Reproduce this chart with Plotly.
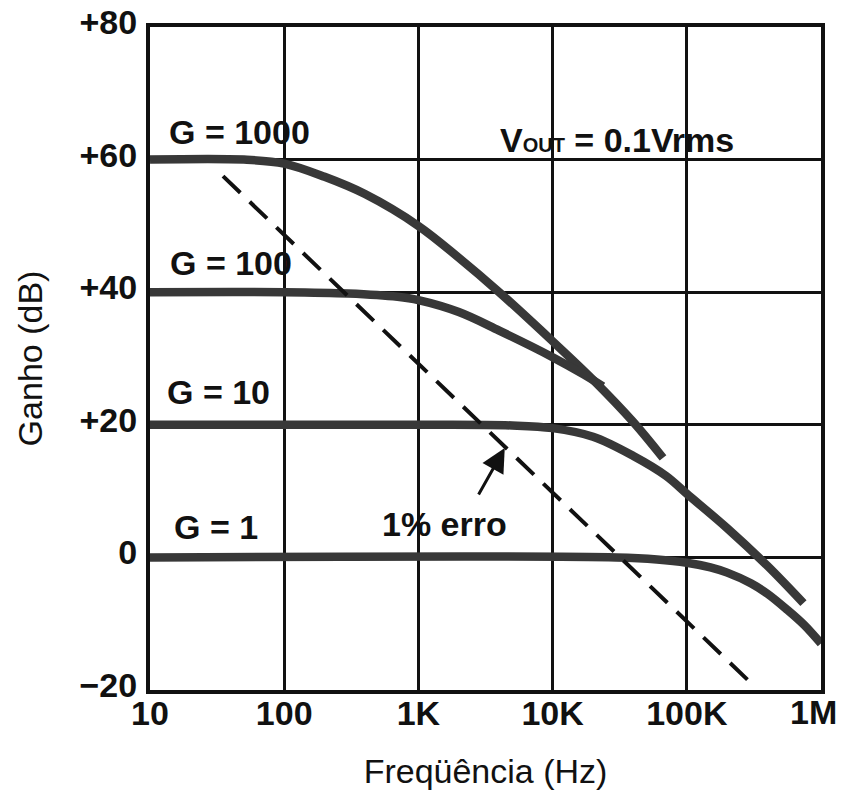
import math
import plotly.graph_objects as go

# Axis ticks (the last frequency label is drawn separately so it stays inside the page)
freq_ticks = [10, 100, 1000, 10000, 100000, 1000000]
freq_labels = ["10", "100", "1K", "10K", "100K", "1M"]
gain_ticks = [-20, 0, 20, 40, 60, 80]
gain_labels = ["\u221220", "0", "+20", "+40", "+60", "+80"]

# Gain vs frequency for each closed-loop gain setting
g1000_freq = [10, 50, 100, 200, 400, 1000, 2000, 4000, 10000, 20000, 40000, 66500]
g1000_gain = [60, 60, 59.4, 57.4, 54.8, 50.0, 45.2, 40.0, 32.6, 26.8, 20.4, 15.0]

g100_freq = [10, 100, 300, 700, 1000, 2000, 4000, 10000, 17000, 23700]
g100_gain = [40, 40, 39.8, 39.3, 38.8, 37.0, 34.2, 30.2, 27.6, 25.8]

g10_freq = [10, 1000, 5000, 10000, 20000, 40000, 70000, 100000, 200000, 400000, 740000]
g10_gain = [20, 20, 19.9, 19.5, 18.2, 15.3, 12.3, 9.6, 4.4, -1.3, -6.9]

g1_freq = [10, 30000, 60000, 100000, 150000, 200000, 300000, 400000, 560000, 750000, 1000000]
g1_gain = [0, 0, -0.3, -0.8, -1.5, -2.3, -3.9, -5.5, -7.9, -10.2, -13.0]

# 1% error boundary (dashed)
err_freq = [35, 306000]
err_gain = [57.5, -19.1]

FONT = "Liberation Sans, Arial, sans-serif"
INK = "#111111"
CURVE = "#383838"

fig = go.Figure()

for fx, gy in [(g1000_freq, g1000_gain), (g100_freq, g100_gain),
               (g10_freq, g10_gain), (g1_freq, g1_gain)]:
    fig.add_trace(go.Scatter(
        x=fx, y=gy, mode="lines",
        line=dict(color=CURVE, width=8.5, shape="spline", smoothing=1.0),
        hoverinfo="skip", showlegend=False,
    ))

fig.add_trace(go.Scatter(
    x=err_freq, y=err_gain, mode="lines",
    line=dict(color=INK, width=4, dash="24px,13px"),
    hoverinfo="skip", showlegend=False,
))

label_font = dict(family=FONT, size=34, color=INK, weight="bold")

# Text labels: (text, frequency in Hz, gain in dB)
labels = [
    ("G = 1000", 13.4, 64.2),
    ("G = 100", 13.6, 44.4),
    ("G = 10", 12.9, 24.9),
    ("G = 1", 14.6, 4.6),
    ("V<span style='font-size:20px'>OUT</span> = 0.1Vrms", 3920, 63.0),
    ("1% erro", 518, 5.0),
]
for text, hz, db in labels:
    fig.add_annotation(
        x=math.log10(hz), y=db, xref="x", yref="y", text=text, showarrow=False,
        xanchor="left", yanchor="middle", font=label_font,
    )

# Arrow pointing at the 1% error line
fig.add_annotation(
    x=math.log10(4400), y=16.5, xref="x", yref="y", text="", showarrow=True,
    ax=-27, ay=48, arrowhead=2, arrowsize=1.6, arrowwidth=3, arrowcolor=INK,
)

# Rightmost frequency label, pulled in from the page edge
fig.add_annotation(
    x=math.log10(freq_ticks[-1]), y=0, xref="x", yref="paper",
    text=freq_labels[-1], showarrow=False,
    xanchor="center", yanchor="middle", xshift=-8, yshift=-22,
    font=label_font,
)

fig.update_xaxes(
    type="log", range=[1, 6],
    tickvals=freq_ticks[:-1], ticktext=freq_labels[:-1],
    showgrid=True, gridcolor=INK, gridwidth=2.5,
    showline=True, linecolor=INK, linewidth=4, mirror=True,
    ticks="", ticklen=0, ticklabelstandoff=-10,
    tickfont=dict(family=FONT, size=34, color=INK, weight="bold"),
    title=dict(text="Freqüência (Hz)", standoff=36,
               font=dict(family=FONT, size=34, color=INK)),
    zeroline=False,
)
fig.update_yaxes(
    range=[-20, 80],
    tickvals=gain_ticks, ticktext=gain_labels,
    showgrid=True, gridcolor=INK, gridwidth=2.5,
    showline=True, linecolor=INK, linewidth=4, mirror=True,
    ticks="", ticklen=0, ticklabelstandoff=2, ticklabelshift=-5,
    tickfont=dict(family=FONT, size=34, color=INK, weight="bold"),
    title=dict(text="Ganho (dB)", standoff=28,
               font=dict(family=FONT, size=34, color=INK)),
    zeroline=False,
)

fig.update_layout(
    width=841, height=790,
    margin=dict(l=150, r=20, t=27, b=100, autoexpand=False),
    paper_bgcolor="white", plot_bgcolor="white",
    showlegend=False,
)

fig.write_html("out.html")
